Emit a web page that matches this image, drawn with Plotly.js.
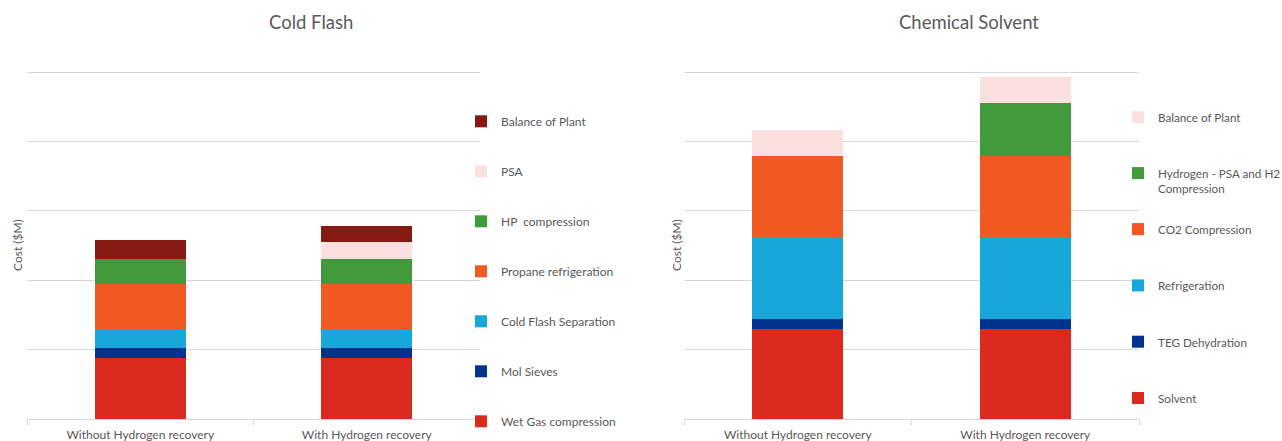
<!DOCTYPE html>
<html>
<head>
<meta charset="utf-8">
<script src="https://cdn.plot.ly/plotly-3.0.1.min.js"></script>
<style>html,body{margin:0;padding:0;background:#fff;}#chart{width:1282px;height:441px;}</style>
</head>
<body>
<div id="chart"></div>
<script>
// Categories (x axis)
const categories = ["Without Hydrogen recovery", "With Hydrogen recovery"];

// Cold Flash chart series (cost, $M)
const cfWetGasCompression = [43.9, 43.9];
const cfMolSieves = [7.2, 7.2];
const cfColdFlashSeparation = [14.1, 14.0];
const cfPropaneRefrigeration = [32.2, 32.3];
const cfHPCompression = [18.0, 18.0];
const cfPSA = [0, 12.0];
const cfBalanceOfPlant = [13.7, 12.0];

// Chemical Solvent chart series
const csSolvent = [64.5, 64.5];
const csTEGDehydration = [7.2, 7.2];
const csRefrigeration = [59.5, 59.5];
const csCO2Compression = [58.1, 58.1];
const csHydrogen = [0, 38.1];
const csBalanceOfPlant = [18.9, 19.1];

// Names
const cfNames = ["Wet Gas compression", "Mol Sieves", "Cold Flash Separation", "Propane refrigeration", "HP  compression", "PSA", "Balance of Plant"];
const csNames = ["Solvent", "TEG Dehydration", "Refrigeration", "CO2 Compression", "Hydrogen - PSA and H2<br>Compression", "Balance of Plant"];
// which legend box each Chemical Solvent entry goes into
const csLegendIds = ["legend3", "legend3", "legend3", "legend3", "legend2", "legend2"];

const RED = "#DA291E", NAVY = "#00338D", CYAN = "#17A7D9", ORANGE = "#F05A22", GREEN = "#439A3D", PINK = "#FCE0E0", MAROON = "#861A12";
const cfColors = [RED, NAVY, CYAN, ORANGE, GREEN, PINK, MAROON];
const csColors = [RED, NAVY, CYAN, ORANGE, GREEN, PINK];

const cfData = [cfWetGasCompression, cfMolSieves, cfColdFlashSeparation, cfPropaneRefrigeration, cfHPCompression, cfPSA, cfBalanceOfPlant];
const csData = [csSolvent, csTEGDehydration, csRefrigeration, csCO2Compression, csHydrogen, csBalanceOfPlant];

const FONT = "Lato, 'Open Sans', sans-serif";
const GREY = "#595959";
const GRID = "#D9D9D9";

const traces = [];
cfData.forEach((vals, i) => {
  traces.push({
    type: "bar", x: categories, y: vals, name: cfNames[i],
    marker: {color: cfColors[i], line: {width: 0}},
    xaxis: "x", yaxis: "y", legend: "legend",
    legendgroup: "cf" + i, legendrank: 100 - i,
    hoverinfo: "name+y"
  });
});
csData.forEach((vals, i) => {
  traces.push({
    type: "bar", x: categories, y: vals, name: csNames[i],
    marker: {color: csColors[i], line: {width: 0}},
    xaxis: "x2", yaxis: "y2", legend: csLegendIds[i],
    legendgroup: "cs" + i, legendrank: 100 - i,
    hoverinfo: "name+y"
  });
});

const W = 1282, T = 70, B = 22, H = 441;
const PH = H - T - B;
const px = v => v / W;
const py = v => (H - B - v) / PH;
const YMAX = 250 * (H - B - T) / (H - B - 72); // top gridline (250) sits at y = 72 px

const xBase = {
  showline: true, linecolor: GRID, linewidth: 1,
  ticks: "outside", tickson: "boundaries", ticklen: 5, tickcolor: GRID,
  ticklabelstandoff: 5,
  tickfont: {family: FONT, size: 12, color: GREY},
  showgrid: false, zeroline: false, automargin: false, fixedrange: true
};
const yBase = {
  range: [0, YMAX], tick0: 0, dtick: 50, showticklabels: false,
  showgrid: true, gridcolor: GRID, gridwidth: 1,
  zeroline: false, showline: false, automargin: false, fixedrange: true
};

const legendBase = {
  font: {family: FONT, size: 12, color: GREY},
  bgcolor: "rgba(0,0,0,0)", borderwidth: 0,
  traceorder: "grouped", xanchor: "left", yanchor: "top", valign: "top"
};
const legendFontR = {family: FONT, size: 11.7, color: GREY};

const layout = {
  width: W, height: H,
  margin: {l: 0, r: 0, t: T, b: B, pad: 0, autoexpand: false},
  paper_bgcolor: "#fff", plot_bgcolor: "#fff",
  barmode: "stack", bargap: 0.6,
  font: {family: FONT, color: GREY},
  showlegend: true,
  xaxis: Object.assign({}, xBase, {domain: [px(27), px(480)], anchor: "y"}),
  yaxis: Object.assign({}, yBase, {domain: [0, 1], anchor: "x"}),
  xaxis2: Object.assign({}, xBase, {domain: [px(684), px(1139)], anchor: "y2"}),
  yaxis2: Object.assign({}, yBase, {domain: [0, 1], anchor: "x2"}),
  legend: Object.assign({}, legendBase, {x: px(461), y: py(107), tracegroupgap: 31}),
  legend2: Object.assign({}, legendBase, {x: px(1118), y: py(103), tracegroupgap: 37, font: legendFontR}),
  legend3: Object.assign({}, legendBase, {x: px(1118), y: py(215), tracegroupgap: 37.3, font: legendFontR}),
  annotations: [
    {text: "Cold Flash", xref: "paper", yref: "paper", x: px(311), y: py(22), xanchor: "center", yanchor: "middle", showarrow: false, font: {family: FONT, size: 18.5, color: GREY}},
    {text: "Chemical Solvent", xref: "paper", yref: "paper", x: px(969), y: py(22), xanchor: "center", yanchor: "middle", showarrow: false, font: {family: FONT, size: 18.5, color: GREY}},
    {text: "Cost ($M)", xref: "paper", yref: "paper", x: px(17), y: py(245), xanchor: "center", yanchor: "middle", textangle: -90, showarrow: false, font: {family: FONT, size: 12, color: GREY}},
    {text: "Cost ($M)", xref: "paper", yref: "paper", x: px(676), y: py(245), xanchor: "center", yanchor: "middle", textangle: -90, showarrow: false, font: {family: FONT, size: 12, color: GREY}}
  ]
};

Plotly.newPlot("chart", traces, layout, {displayModeBar: false, staticPlot: true});
</script>
</body>
</html>
